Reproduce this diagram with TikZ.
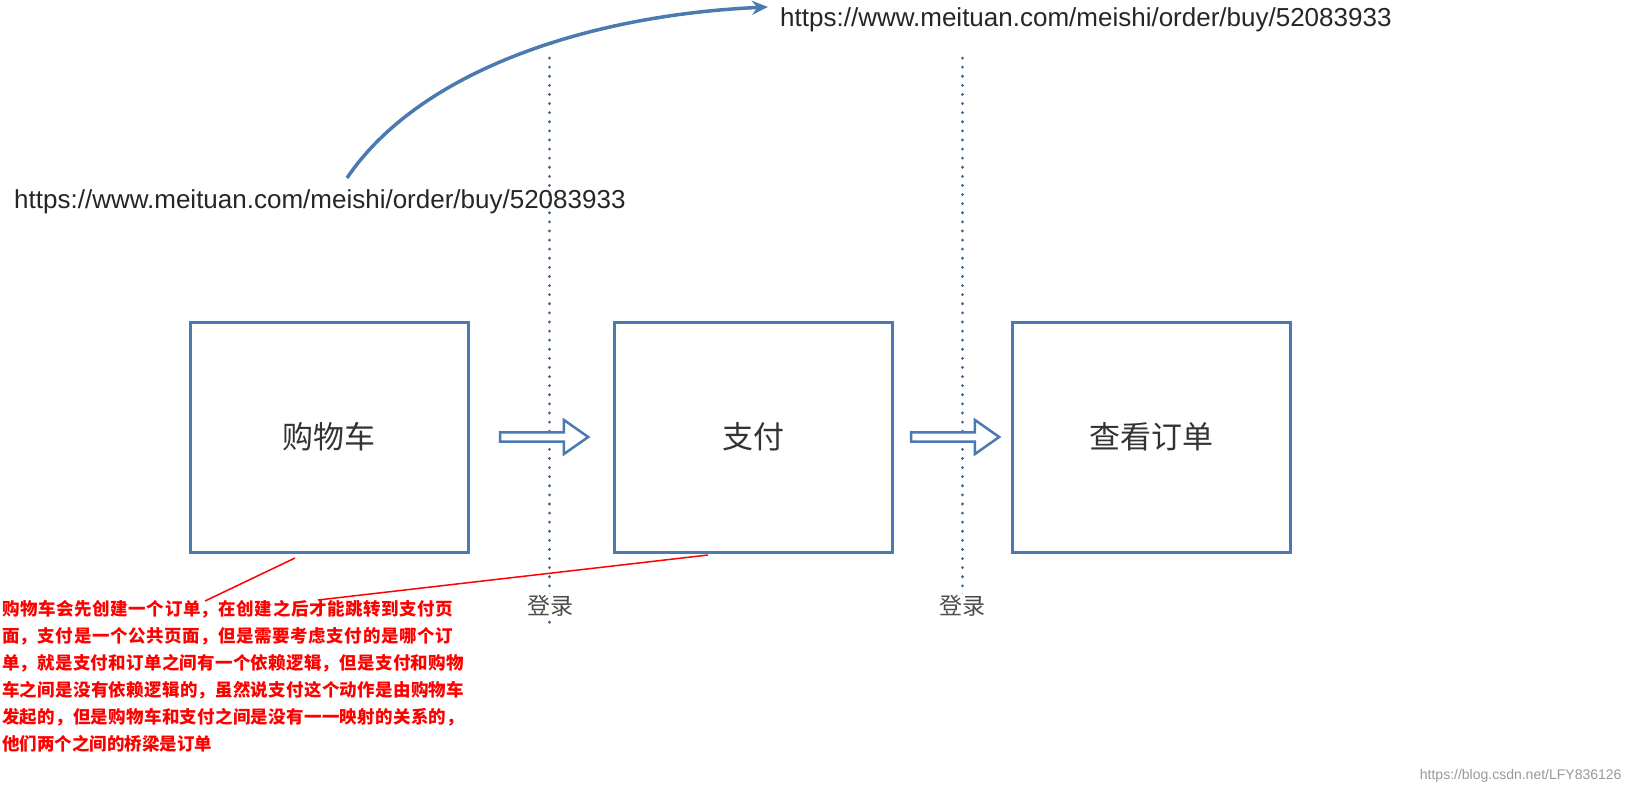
\documentclass[tikz,border=0pt]{standalone}
\usepackage{fontspec}
\setmainfont{Liberation Sans}
\newfontfamily\cjk{Noto Sans CJK SC}
\XeTeXlinebreaklocale "zh"
\XeTeXlinebreakskip=0pt plus 1pt
\usetikzlibrary{shapes.arrows,arrows.meta}
\definecolor{bl}{HTML}{4A7AB0}
\begin{document}
\begin{tikzpicture}[x=1pt,y=-1pt,
  box/.style={draw=bl,line width=3pt,minimum width=278pt,minimum height=230pt,font=\cjk\fontsize{31}{34}\selectfont,text=black!80},
  harrow/.style={single arrow,draw=bl,line width=2.5pt,fill=white,minimum width=34pt,single arrow head extend=9pt,single arrow tip angle=70,minimum height=88pt,inner sep=2pt},
  dots/.style={bl!80!black,line width=3pt,dash pattern=on 0.1pt off 9pt,line cap=round},
  url/.style={font=\fontsize{26}{30}\selectfont,text=black!85,anchor=west,inner sep=0pt},
  lab/.style={font=\cjk\fontsize{23}{26}\selectfont,text=black!70}]
\useasboundingbox (0,0) rectangle (1627,798);
\fill[white] (0,0) rectangle (1627,798);
\coordinate (d1t) at (549,58); \coordinate (d1b) at (549,625);
\coordinate (d2t) at (962,58); \coordinate (d2b) at (962,600);
\draw[dots] (d1t) -- (d1b);
\draw[dots] (d2t) -- (d2b);
\node[box] (cart) at (329,437) {购物车};
\node[box] (pay) at (753,437) {支付};
\node[box] (view) at (1151,437) {查看订单};
\node[harrow] (a1) at (541,437) {};
\node[harrow] (a2) at (952,437) {};
\node[lab,fill=white,inner sep=1pt] (l1) at (550,606) {登录};
\node[lab,fill=white,inner sep=1pt] (l2) at (962,606) {登录};
\node[url] (u1) at (14,202) {https://www.meituan.com/meishi/order/buy/52083933};
\node[url] (u2) at (780,20) {https://www.meituan.com/meishi/order/buy/52083933};
\coordinate (cs) at (347,178); \coordinate (ce) at (768,7);
\draw[bl,line width=3.5pt,-{Stealth[length=16pt,width=14pt]}] (cs) .. controls (420,70) and (590,15) .. (ce);
\node[anchor=north west,inner sep=0pt,text width=472pt,text=red,font=\cjk\bfseries\fontsize{17.5}{27}\selectfont,align=left] (note) at (2,600) {购物车会先创建一个订单，在创建之后才能跳转到支付页面，支付是一个公共页面，但是需要考虑支付的是哪个订单，就是支付和订单之间有一个依赖逻辑，但是支付和购物车之间是没有依赖逻辑的，虽然说支付这个动作是由购物车发起的，但是购物车和支付之间是没有一一映射的关系的，他们两个之间的桥梁是订单};
\coordinate (r1a) at (295,558); \coordinate (r1b) at (205,601);
\coordinate (r2a) at (708,555); \coordinate (r2b) at (318,600);
\draw[red,line width=1.5pt] (r1a) -- (r1b);
\draw[red,line width=1.5pt] (r2a) -- (r2b);
\node[anchor=east,text=black!40,font=\fontsize{14}{16}\selectfont] (wm) at (1625,776) {https://blog.csdn.net/LFY836126};
\end{tikzpicture}
\end{document}
